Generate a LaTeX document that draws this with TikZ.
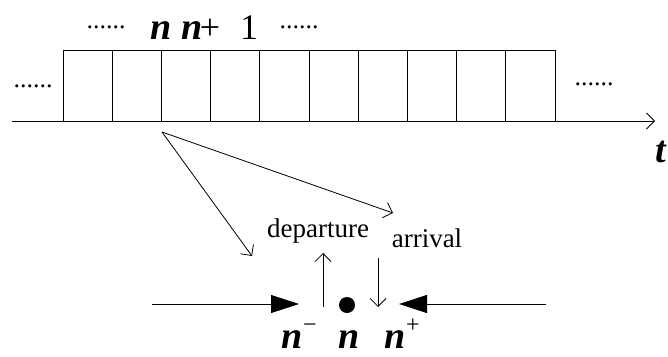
\documentclass[tikz,border=0pt]{standalone}
\usepackage{fontspec}
\setmainfont{Liberation Serif}
\usetikzlibrary{arrows.meta}
\tikzset{
  cell/.style={draw, line width=0.8pt, minimum width=49.2pt, minimum height=71pt, inner sep=0pt, outer sep=0pt},
  thinline/.style={line width=0.8pt},
  barb/.style={thinline, -{Straight Barb[length=8pt,width=16pt]}},
  solidtip/.style={thinline, -{Triangle[length=28pt,width=18pt]}},
  bigvar/.style={inner sep=0pt, anchor=base, font=\fontsize{38}{38}\selectfont\bfseries\itshape},
  bigrom/.style={inner sep=0pt, anchor=base, font=\fontsize{36}{36}\selectfont},
  supsym/.style={inner sep=0pt, anchor=base, font=\fontsize{24}{24}\selectfont},
  dots/.style={inner sep=0pt, anchor=base, font=\fontsize{26}{26}\selectfont},
  word/.style={inner sep=0pt, anchor=base, font=\fontsize{27}{27}\selectfont}
}
\begin{document}
\begin{tikzpicture}[x=1pt,y=-1pt]
\useasboundingbox (0,0) rectangle (668,356);

% row of time slots
\foreach \i in {0,...,9}
  \node[cell] (c\i) at ({63+49.2*\i+24.6},85.5) {};

% time axis
\coordinate (axL) at (12,121);
\coordinate (axR) at (655,121);
\draw[barb] (axL) -- (axR);
\node[bigvar, anchor=base west] (tlab) at (655,162) {t};

% labels above and beside the slots
\node[dots] (dotsTL) at (106,28) {......};
\node[dots] (dotsTR) at (299,28) {......};
\node[dots] (dotsL) at (33,87) {......};
\node[dots] (dotsR) at (594,85) {......};
\node[bigvar] (nA) at (161,39) {n};
\node[bigvar] (nB) at (192,39) {n};
\node[bigrom] (plus) at (210,39) {+};
\node[bigrom] (one) at (249,39) {1};

% zoom-in rays from the slot boundary
\coordinate (split) at (162,132);
\coordinate (rayA) at (252,256);
\coordinate (rayB) at (393,213);
\draw[barb] (split) -- (rayA);
\draw[barb] (split) -- (rayB);

% departure / arrival around the instant n
\node[word] (dep) at (318,237) {departure};
\node[word] (arr) at (427,247) {arrival};
\coordinate (upS) at (323,307);
\coordinate (upE) at (323,253);
\coordinate (dnS) at (378,258);
\coordinate (dnE) at (378,307);
\draw[barb] (upS) -- (upE);
\draw[barb] (dnS) -- (dnE);

\node[circle, fill, inner sep=0pt, minimum size=16pt] (inst) at (347,305) {};

\coordinate (lS) at (152,304);
\coordinate (lE) at (299,304);
\coordinate (rS) at (546,304);
\coordinate (rE) at (399,304);
\draw[solidtip] (lS) -- (lE);
\draw[solidtip] (rS) -- (rE);

% n^-, n, n^+
\node[bigvar] (nm) at (292,348) {n};
\node[supsym] (minus) at (310,332) {−};
\node[bigvar] (nc) at (349,348) {n};
\node[bigvar] (np) at (395,348) {n};
\node[supsym] (plussup) at (413,332) {+};
\end{tikzpicture}
\end{document}
